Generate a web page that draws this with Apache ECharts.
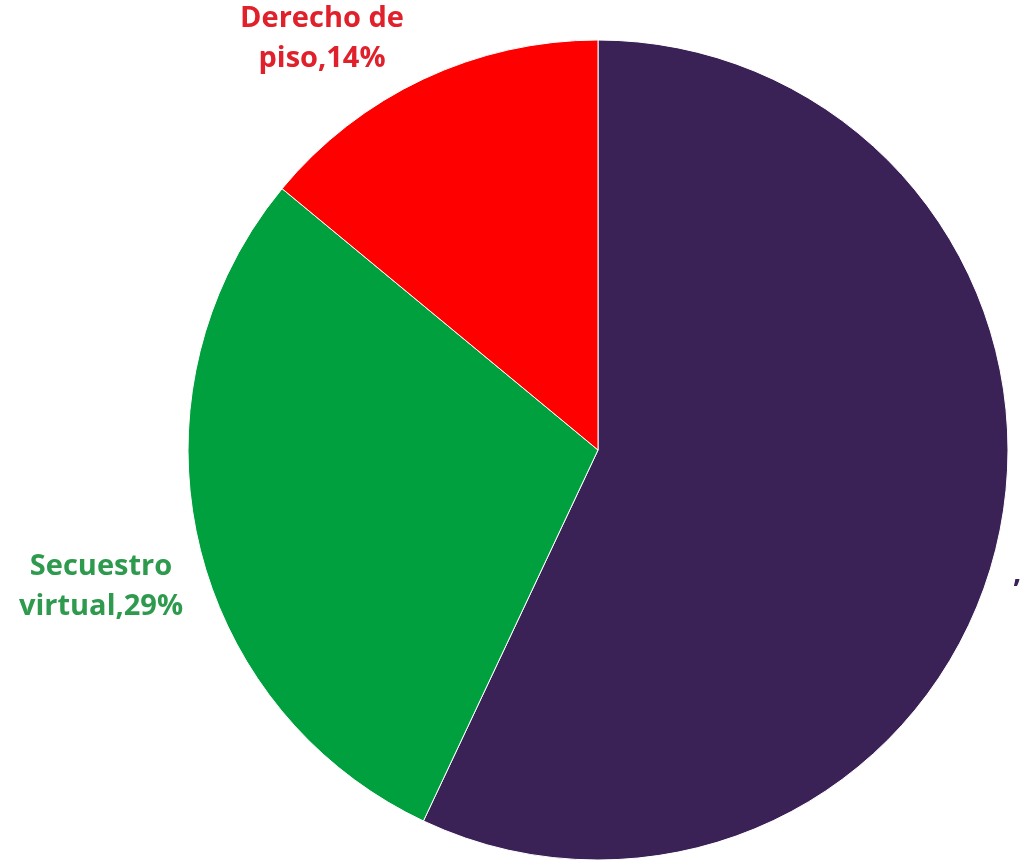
<!DOCTYPE html>
<html>
<head>
<meta charset="utf-8">
<script src="https://cdn.jsdelivr.net/npm/echarts@6/dist/echarts.min.js"></script>
<style>html,body{margin:0;padding:0;background:#fff}#c{width:1021px;height:862px}</style>
</head>
<body>
<div id="c"></div>
<script>
const categories = ['', 'Secuestro\nvirtual', 'Derecho de\npiso'];
const values = [57, 29, 14];
const colors = ['#3B2256', '#00A03E', '#FF0000'];
const labelColors = ['#3B2256', '#2E9A4E', '#E0202A'];

const chart = echarts.init(document.getElementById('c'));
const labelPos = [
  {x: 1013, y: 574, align: 'left'},
  {x: 101, y: 587, align: 'center'},
  {x: 322, y: 39, align: 'center'}
];
chart.setOption({
  animation: false,
  series: [{
    type: 'pie',
    center: [598, 450],
    radius: 410,
    startAngle: 90,
    clockwise: true,
    itemStyle: {borderColor: '#ffffff', borderWidth: 1},
    label: {
      show: true,
      position: 'outside',
      fontFamily: 'Open Sans',
      fontWeight: 'bold',
      fontSize: 29,
      lineHeight: 40,
      overflow: 'none',
      formatter: p => p.name + ',' + p.value + '%'
    },
    labelLine: {show: false},
    labelLayout: p => ({
      x: labelPos[p.dataIndex].x,
      y: labelPos[p.dataIndex].y,
      align: labelPos[p.dataIndex].align,
      verticalAlign: 'middle'
    }),
    data: categories.map((c, i) => ({
      name: c,
      value: values[i],
      itemStyle: {color: colors[i]},
      label: {color: labelColors[i]}
    }))
  }]
});
</script>
</body>
</html>
